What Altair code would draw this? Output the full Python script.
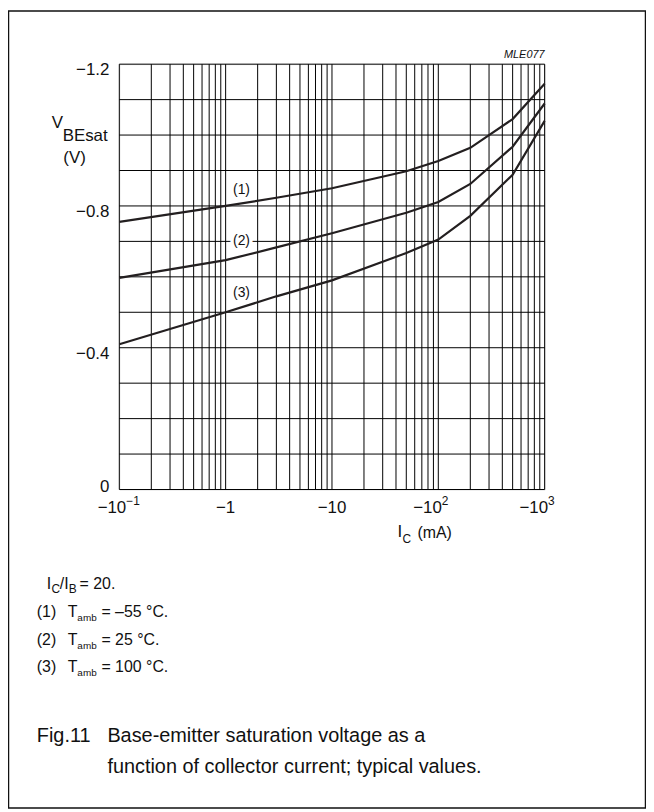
import altair as alt
import pandas as pd

# ---- data -------------------------------------------------------------------
currents_mA = [0.1, 1, 3, 10, 50, 100, 200, 500, 1000]          # |I_C| in mA
vbe_m55 = [-0.755, -0.800, -0.823, -0.850, -0.898, -0.927, -0.964, -1.045, -1.145]
vbe_25 = [-0.597, -0.647, -0.683, -0.723, -0.781, -0.811, -0.862, -0.967, -1.089]
vbe_100 = [-0.410, -0.500, -0.545, -0.590, -0.667, -0.705, -0.772, -0.888, -1.040]
curve_ids = ["(1)", "(2)", "(3)"]

label_x = [1.41, 1.41, 1.41]
label_y = [-0.845, -0.700, -0.555]

decades = [0.1, 1, 10, 100]
multipliers = [1, 2, 3, 4, 5, 6, 7, 8, 9]
grid_v = [0.0, -0.1, -0.2, -0.3, -0.4, -0.5, -0.6, -0.7, -0.8, -0.9, -1.0, -1.1, -1.2]

y_tick_vals = [-1.2, -0.8, -0.4]
y_tick_text = ["\u22121.2", "\u22120.8", "\u22120.4"]
y_zero_val = [0.0]
x_tick_vals = [0.1, 1, 10, 100, 1000]
x_tick_base = ["\u221210", "\u22121", "\u221210", "\u221210", "\u221210"]
x_tick_sup = ["\u22121", "", "", "2", "3"]

FONT = "Liberation Sans"
W, H = 428, 428
OX, OY = 112, 54   # padding left / top

# ---- tables -----------------------------------------------------------------
rows = []
for cid, vals in zip(curve_ids, [vbe_m55, vbe_25, vbe_100]):
    for c, v in zip(currents_mA, vals):
        rows.append({"I": c, "V": v, "curve": cid})
curves = pd.DataFrame(rows)

grid_x = [d * m for d in decades for m in multipliers] + [1000]
gx = pd.DataFrame({"I": grid_x})
gy = pd.DataFrame({"V": grid_v})
labels = pd.DataFrame({"I": label_x, "V": label_y, "t": curve_ids})
ytk = pd.DataFrame({"V": y_tick_vals, "t": y_tick_text})
yzero = pd.DataFrame({"V": y_zero_val, "t": ["0"]})

xs = alt.Scale(type="log", domain=[0.1, 1000], nice=False)
ys = alt.Scale(domain=[-1.2, 0], reverse=True, nice=False, zero=False)
X = lambda: alt.X("I:Q", scale=xs, axis=None)
Y = lambda: alt.Y("V:Q", scale=ys, axis=None)

one = pd.DataFrame({"a": [0]})
INK = "#111"


def txt(x, y, s, size=15, align="left", baseline="alphabetic", style="normal"):
    return alt.Chart(one).mark_text(
        font=FONT, fontSize=size, align=align, baseline=baseline,
        fontStyle=style, color=INK
    ).encode(x=alt.value(x), y=alt.value(y), text=alt.value(s))


layers = []

# outer frame
layers.append(
    alt.Chart(one).mark_rect(filled=False, stroke=INK, strokeWidth=1.5).encode(
        x=alt.value(-OX + 0.5), x2=alt.value(W + 102 - 0.5),
        y=alt.value(-OY + 0.5), y2=alt.value(H + 322 - 1.5)
    )
)

# grid
layers.append(alt.Chart(gx).mark_rule(color="#000", strokeWidth=1).encode(x=X()))
layers.append(alt.Chart(gy).mark_rule(color="#000", strokeWidth=1).encode(y=Y()))

# curves
layers.append(
    alt.Chart(curves).mark_line(color="#231f20", strokeWidth=2.2).encode(
        x=X(), y=Y(), detail="curve:N"
    )
)

# curve labels with white halo
layers.append(alt.Chart(labels).mark_text(font=FONT, fontSize=14, stroke="white",
                                          strokeWidth=7, color="white").encode(x=X(), y=Y(), text="t:N"))
layers.append(alt.Chart(labels).mark_text(font=FONT, fontSize=14, color=INK).encode(
    x=X(), y=Y(), text="t:N"))

# y tick labels
layers.append(alt.Chart(ytk).mark_text(font=FONT, fontSize=17, align="right", baseline="middle",
                                       dy=6, color=INK).encode(
    x=alt.value(-10), y=Y(), text="t:N"))
layers.append(alt.Chart(yzero).mark_text(font=FONT, fontSize=17, align="right", baseline="middle",
                                         dy=-2, color=INK).encode(
    x=alt.value(-10), y=Y(), text="t:N"))

# x tick labels
for v, b, s in zip(x_tick_vals, x_tick_base, x_tick_sup):
    d = pd.DataFrame({"I": [v]})
    if s:
        off = 3.5 * len(s)
        layers.append(alt.Chart(d).mark_text(font=FONT, fontSize=17, align="right",
                                             baseline="alphabetic", dx=off, color=INK).encode(
            x=X(), y=alt.value(H + 24), text=alt.value(b)))
        layers.append(alt.Chart(d).mark_text(font=FONT, fontSize=12, align="left",
                                             baseline="alphabetic", dx=off, color=INK).encode(
            x=X(), y=alt.value(H + 16), text=alt.value(s)))
    else:
        layers.append(alt.Chart(d).mark_text(font=FONT, fontSize=17, align="center",
                                             baseline="alphabetic", color=INK).encode(
            x=X(), y=alt.value(H + 24), text=alt.value(b)))

# code label
layers.append(txt(W, -6, "MLE077", size=11, align="right", style="italic"))

# y title
layers.append(txt(-68, 64, "V", size=17))
layers.append(txt(-57, 77, "BEsat", size=17))
layers.append(txt(-45, 99, "(V)", size=17, align="center"))

# x title
layers.append(txt(280, 476, "I", size=17))
layers.append(txt(285, 482, "C", size=12))
layers.append(txt(300, 477, "(mA)", size=16))

# notes
NY = 528
layers.append(txt(-73, NY, "I", size=16))
layers.append(txt(-68.3, NY + 4, "C", size=12))
layers.append(txt(-59.8, NY, "/I", size=16))
layers.append(txt(-50.8, NY + 4, "B", size=12))
layers.append(txt(-40, NY, "= 20.", size=16))

for i, t in enumerate(["= \u201355 \u00b0C.", "= 25 \u00b0C.", "= 100 \u00b0C."]):
    yy = NY + 28 + i * 28
    layers.append(txt(-83, yy, "(%d)" % (i + 1), size=16))
    layers.append(txt(-52, yy, "T", size=16))
    layers.append(txt(-42.2, yy + 4, "amb", size=10))
    layers.append(txt(-18, yy, t, size=16))

# caption
layers.append(txt(-83, 682, "Fig.11", size=20))
layers.append(txt(-12, 682, "Base-emitter saturation voltage as a", size=20))
layers.append(txt(-12, 713, "function of collector current; typical values.", size=20))

chart = alt.layer(*layers).properties(
    width=W, height=H,
    autosize="none",
    padding={"left": OX, "top": OY, "right": 102, "bottom": 322},
).configure_view(stroke=None).configure(background="white")

chart.save("out.html", embed_options={"renderer": "svg", "actions": False})
